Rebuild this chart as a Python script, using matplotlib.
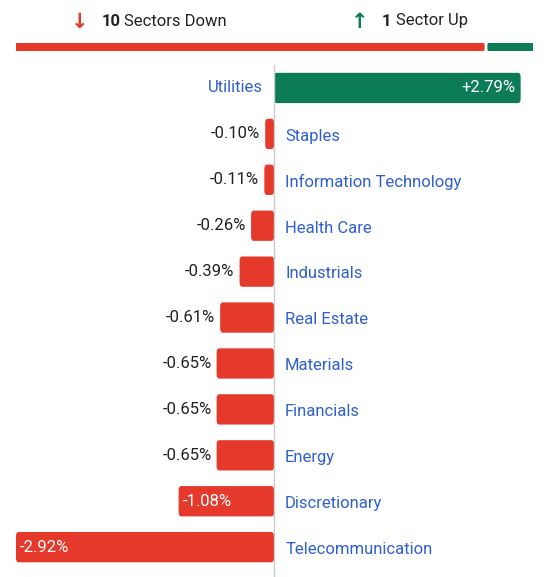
import matplotlib
matplotlib.use("Agg")
import matplotlib.pyplot as plt
from matplotlib.patches import FancyBboxPatch

sectors = ["Utilities","Staples","Information Technology","Health Care","Industrials",
           "Real Estate","Materials","Financials","Energy","Discretionary","Telecommunication"]
values = [2.79,-0.10,-0.11,-0.26,-0.39,-0.61,-0.65,-0.65,-0.65,-1.08,-2.92]
n_down, n_up = 10, 1

RED = "#E5392B"; GREEN = "#0B7B58"; BLUE = "#2F5FD0"
plt.rcParams['font.family'] = ['Roboto', 'DejaVu Sans']
W, H = 549, 577
fig = plt.figure(figsize=(W/100, H/100), dpi=100)

def px(x0, y0, x1, y1):
    return [x0/W, 1-y1/H, (x1-x0)/W, (y1-y0)/H]

# header bar
hb = fig.add_axes(px(16, 43, 533, 51)); hb.axis('off')
hb.set_xlim(0, 1); hb.set_ylim(0, 1)
tot = n_down + n_up
split = n_down/tot
gap = 0.008
hb.add_patch(FancyBboxPatch((0, 0), split-gap/2, 1, boxstyle="round,pad=0,rounding_size=0.004", color=RED, mutation_aspect=60))
hb.add_patch(FancyBboxPatch((split+gap/2, 0), 1-split-gap/2, 1, boxstyle="round,pad=0,rounding_size=0.004", color=GREEN, mutation_aspect=60))

def ft(x, y, s, **kw):
    fig.text(x/W, 1-y/H, s, va='center', **kw)
ft(80, 22, "↓", color=RED, fontsize=15, fontweight='bold', ha='center', family='DejaVu Sans')
ft(102, 21, str(n_down), fontsize=12, fontweight='bold', color='#222222')
ft(124, 21, "Sectors Down", fontsize=12, color='#222222')
ft(360, 22, "↑", color=GREEN, fontsize=15, fontweight='bold', ha='center', family='DejaVu Sans')
ft(382, 21, str(n_up), fontsize=12, fontweight='bold', color='#222222')
ft(396, 21, "Sector Up", fontsize=12, color='#222222')

ax = fig.add_axes(px(16, 65, 533, 577))
ax.axis('off')
xmin, xmax = -2.92, 2.93
ax.set_xlim(xmin, xmax)
ax.set_ylim(10.65, -0.5)
ax.axvline(0, color='#cccccc', lw=1)
unit = (xmax - xmin) / (533 - 16)
for i, (s, v) in enumerate(zip(sectors, values)):
    c = GREEN if v > 0 else RED
    ax.add_patch(FancyBboxPatch((min(0, v), i-0.33), abs(v), 0.66,
                 boxstyle="round,pad=0,rounding_size=0.03", color=c, lw=0,
                 mutation_aspect=3.0))
    lab = f"{v:+.2f}%"
    lab = lab.replace("-", "-")
    if v > 0:
        ax.text(-11*unit, i, s, ha='right', va='center', color=BLUE, fontsize=12)
        ax.text(v-5*unit, i, lab, ha='right', va='center', color='white', fontsize=12)
    else:
        ax.text(11*unit, i+0.05, s, ha='left', va='center', color=BLUE, fontsize=12)
        if abs(v) > 0.9:
            ax.text(v+4*unit, i, lab, ha='left', va='center', color='white', fontsize=12)
        else:
            ax.text(v-5*unit, i, lab, ha='right', va='center', color='#222222', fontsize=12)

fig.savefig("out.png", dpi=100)
